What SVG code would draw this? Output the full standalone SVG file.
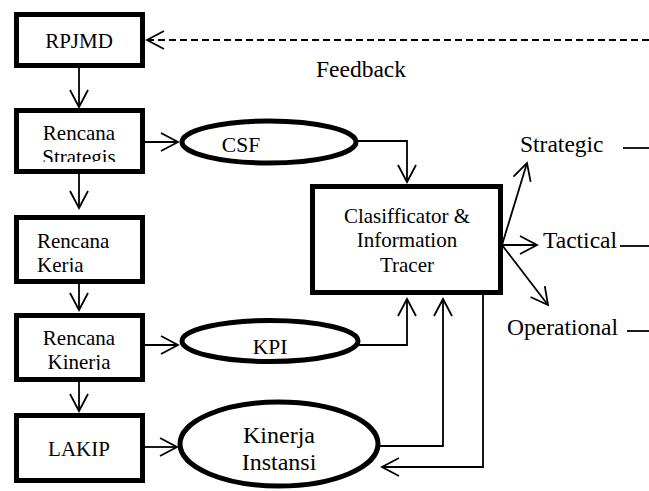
<svg xmlns="http://www.w3.org/2000/svg" width="649" height="491" viewBox="0 0 649 491">
<style>
.box{fill:#fff;stroke:#000;stroke-width:5}
.ell{fill:#fff;stroke:#000;stroke-width:5}
.c{fill:none;stroke:#000;stroke-width:1.8}
.a{marker-end:url(#ah)}
</style>
<defs>
<marker id="ah" markerUnits="userSpaceOnUse" markerWidth="30" markerHeight="30" viewBox="-22 -15 30 30" refX="0" refY="0" orient="auto" overflow="visible">
<path d="M-17,-9 L0,0 L-17,9" fill="none" stroke="#000" stroke-width="1.8"/>
</marker>
<clipPath id="cp1"><rect x="19" y="113" width="121" height="49"/></clipPath>
<clipPath id="cp2"><rect x="19" y="220" width="121" height="52"/></clipPath>
<clipPath id="cp3"><rect x="19" y="318" width="121" height="52"/></clipPath>
</defs>
<rect width="649" height="491" fill="#fff"/>
<g id="connectors">
<line class="c a" x1="79" y1="68" x2="79" y2="107"/>
<line class="c a" x1="79" y1="174" x2="79" y2="208"/>
<line class="c a" x1="79" y1="284" x2="79" y2="310"/>
<line class="c a" x1="79" y1="382" x2="79" y2="411"/>
<line class="c a" x1="145" y1="142" x2="178" y2="142"/>
<line class="c a" x1="145" y1="345" x2="178" y2="345"/>
<line class="c a" x1="145" y1="447" x2="177" y2="447"/>
<polyline class="c a" points="357,141 407,141 407,182"/>
<polyline class="c a" points="359,345 407,345 407,299"/>
<polyline class="c a" points="379,446 443,446 443,299"/>
<polyline class="c a" points="483,295 483,467 382,467"/>
<line class="c a" x1="502" y1="245" x2="527" y2="163"/>
<line class="c a" x1="502" y1="245" x2="537" y2="245"/>
<line class="c a" x1="502" y1="245" x2="548" y2="305"/>
<line class="c a" x1="649" y1="40" x2="147" y2="40" stroke-dasharray="7 4"/>
<line class="c" x1="623" y1="148" x2="649" y2="148"/>
<line class="c" x1="620" y1="246" x2="649" y2="246"/>
<line class="c" x1="627" y1="331" x2="649" y2="331"/>
</g>
<g font-family="Liberation Serif" fill="#000">
<g id="rpjmd">
<rect class="box" x="16.5" y="14.5" width="126" height="51"/>
<text x="79" y="48" font-size="21" text-anchor="middle">RPJMD</text>
</g>
<g id="rencana-strategis">
<rect class="box" x="16.5" y="110.5" width="126" height="61"/>
<g clip-path="url(#cp1)">
<text x="79" y="140" font-size="21" text-anchor="middle">Rencana</text>
<text x="79" y="164" font-size="21" text-anchor="middle">Strategis</text>
</g>
</g>
<g id="rencana-kerja">
<rect class="box" x="16.5" y="217.5" width="126" height="64"/>
<g clip-path="url(#cp2)">
<text x="37" y="248" font-size="21">Rencana</text>
<text x="37" y="272" font-size="21">Kerja</text>
</g>
</g>
<g id="rencana-kinerja">
<rect class="box" x="16.5" y="315.5" width="126" height="64"/>
<g clip-path="url(#cp3)">
<text x="79" y="345" font-size="21" text-anchor="middle">Rencana</text>
<text x="79" y="369" font-size="21" text-anchor="middle">Kinerja</text>
</g>
</g>
<g id="lakip">
<rect class="box" x="16.5" y="415.5" width="126" height="65"/>
<text x="79" y="456" font-size="21" text-anchor="middle">LAKIP</text>
</g>
<g id="csf">
<ellipse class="ell" cx="269" cy="142" rx="87" ry="21"/>
<text x="241" y="152" font-size="21.5" text-anchor="middle">CSF</text>
</g>
<g id="kpi">
<ellipse class="ell" cx="270" cy="341" rx="88" ry="20.5"/>
<text x="270" y="354" font-size="21.5" text-anchor="middle">KPI</text>
</g>
<g id="kinerja-instansi">
<ellipse class="ell" cx="279" cy="444" rx="99" ry="42"/>
<text x="279" y="443" font-size="24" text-anchor="middle">Kinerja</text>
<text x="279" y="470" font-size="24" text-anchor="middle">Instansi</text>
</g>
<g id="classificator">
<rect class="box" x="312.5" y="186.5" width="188" height="106"/>
<text x="407" y="223" font-size="21" text-anchor="middle">Clasifficator &amp;</text>
<text x="407" y="247" font-size="21" text-anchor="middle">Information</text>
<text x="407" y="272" font-size="21" text-anchor="middle">Tracer</text>
</g>
<g id="labels">
<text x="316" y="77" font-size="23.5">Feedback</text>
<text x="520" y="152" font-size="23.5">Strategic</text>
<text x="543" y="248" font-size="23.5">Tactical</text>
<text x="507" y="335" font-size="23.5">Operational</text>
</g>
</g>
</svg>
